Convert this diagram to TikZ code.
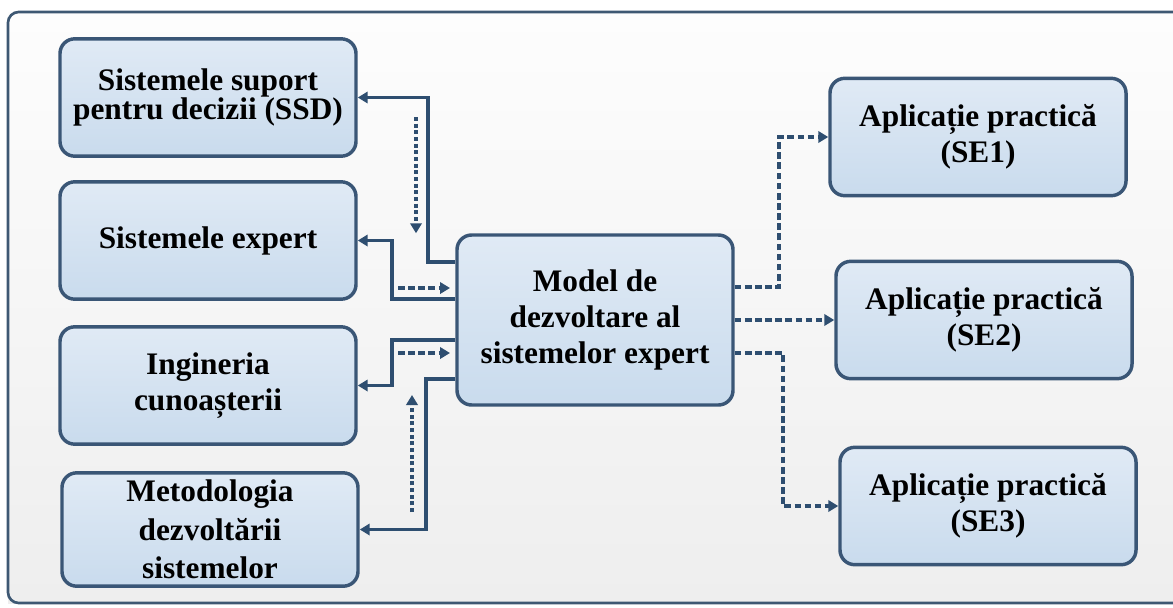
\documentclass[tikz,border=0pt]{standalone}
\usepackage{fontspec}
\setmainfont{Liberation Serif}
\usetikzlibrary{arrows.meta}
\definecolor{framecol}{HTML}{3E5873}
\definecolor{edgecol}{HTML}{3A5676}
\definecolor{linkcol}{HTML}{2E4E70}
\definecolor{boxtop}{HTML}{E0EAF5}
\definecolor{boxbot}{HTML}{C9DBED}
\definecolor{bgtop}{HTML}{FDFDFD}
\definecolor{bgbot}{HTML}{EEEEEE}
\begin{document}
\begin{tikzpicture}[x=0.75pt,y=-0.75pt,
  box/.style={draw=edgecol, line width=2.6pt, rounded corners=11pt,
    top color=boxtop, bottom color=boxbot, align=center, inner sep=0pt,
    font=\fontsize{23.5}{27}\selectfont\bfseries},
  sidebox/.style={box, minimum width=222pt, minimum height=88pt},
  link/.style={draw=linkcol, line width=2.5pt, -{Triangle[length=7.5pt,width=8.5pt]}},
  dashlink/.style={link, dash pattern=on 5pt off 2.6pt},
  dotlink/.style={link, dash pattern=on 3pt off 2pt},
]
\useasboundingbox (0,0) rectangle (1173,607);
% background panel, its right side runs past the page edge
\fill[top color=bgtop, bottom color=bgbot] (8,12) rectangle (1173,603);
\draw[framecol, line width=2pt, rounded corners=8pt]
  (1180,12) -- (8,12) -- (8,603) -- (1180,603);

% left column
\node[sidebox, font=\fontsize{23.5}{22}\selectfont\bfseries] (ssd) at (208,97.5)
  {Sistemele suport\\pentru decizii (SSD)};
\node[sidebox] (se)  at (208,240.5) {Sistemele expert};
\node[sidebox] (ic)  at (208,385.5) {Ingineria\\cunoașterii};
\node[sidebox, minimum height=85pt, font=\fontsize{23.5}{29}\selectfont\bfseries] (md)
  at (210,529.5) {Metodologia\\dezvoltării\\sistemelor};

% central model
\node[box, minimum width=207pt, minimum height=127.5pt] (model) at (595,320)
  {Model de\\dezvoltare al\\sistemelor expert};

% right column
\node[sidebox] (a1) at (978,137) {Aplicație practică\\(SE1)};
\node[sidebox] (a2) at (984,320) {Aplicație practică\\(SE2)};
\node[sidebox] (a3) at (988,506) {Aplicație practică\\(SE3)};

% bends of the solid links
\coordinate (b1) at (428,262);
\coordinate (b2) at (392,299);
\coordinate (b3) at (392,340);
\coordinate (b4) at (426,379);
\draw[link] (model.west |- b1) -- (b1) |- (ssd.east);
\draw[link] (model.west |- b2) -- (b2) |- (se.east);
\draw[link] (model.west |- b3) -- (b3) |- (ic.east);
\draw[link] (model.west |- b4) -- (b4) |- (md.east);

% short flow arrows towards the model
\coordinate (d1s) at (416,117);
\coordinate (d2s) at (398,288);
\coordinate (d2e) at (450,288);
\coordinate (d3s) at (398,353);
\coordinate (d3e) at (450,353);
\coordinate (d4s) at (412,512);
\coordinate (d4e) at (412,395);
\draw[dotlink] (d1s) -- (d1s |- model.north);
\draw[dashlink] (d2s) -- (d2e);
\draw[dashlink] (d3s) -- (d3e);
\draw[dotlink] (d4s) -- (d4e);

% links to the applications
\coordinate (r1) at (779,287);
\coordinate (r3) at (783,353);
\draw[dashlink] (model.east |- r1) -- (r1) |- (a1.west);
\draw[dashlink] (model.east |- a2.west) -- (a2.west);
\draw[dashlink] (model.east |- r3) -- (r3) |- (a3.west);
\end{tikzpicture}
\end{document}
